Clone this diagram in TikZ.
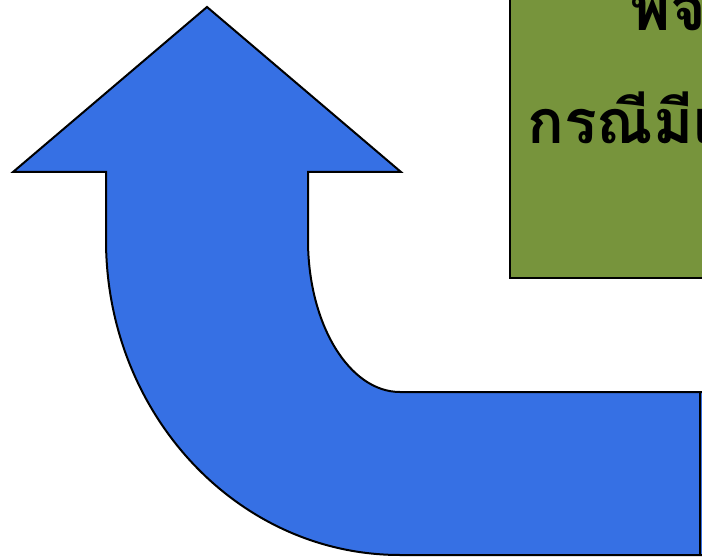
\documentclass[tikz,border=0pt]{standalone}
\usepackage{fontspec}
\newfontfamily\thaifont[Script=Thai]{Loma}
\definecolor{arrowblue}{RGB}{54,112,228}
\definecolor{boxgreen}{RGB}{119,148,60}
\tikzset{
  arrowshape/.style={fill=arrowblue, draw=black, line width=2pt, line join=miter},
  greenbox/.style={fill=boxgreen, draw=black, line width=1.8pt},
  thaitext/.style={font=\thaifont\bfseries\fontsize{61}{73}\selectfont, inner sep=0pt, anchor=base west}
}
\begin{document}
\begin{tikzpicture}[x=1pt,y=1pt]
\useasboundingbox (0,0) rectangle (702,558);
\clip (0,0) rectangle (702,558);
\fill[white] (0,0) rectangle (702,558);
% green box (extends past the picture edge)
\draw[greenbox] (510,280) rectangle (740,600);
\node[thaitext] (l1) at (630,527) {พิจ};
\node[thaitext] (l2) at (527,414) {กรณีมีเ};
% bent arrow
\draw[arrowshape] (207,551) -- (401,386) -- (308,386) -- (308,318)
  arc[start angle=180, end angle=270, x radius=92, y radius=152]
  -- (740,166) -- (740,3) -- (400,3)
  arc[start angle=270, end angle=180, x radius=294, y radius=315]
  -- (106,386) -- (13,386) -- cycle;
\draw[black, line width=2pt] (700,166) -- (700,3);
\end{tikzpicture}
\end{document}
